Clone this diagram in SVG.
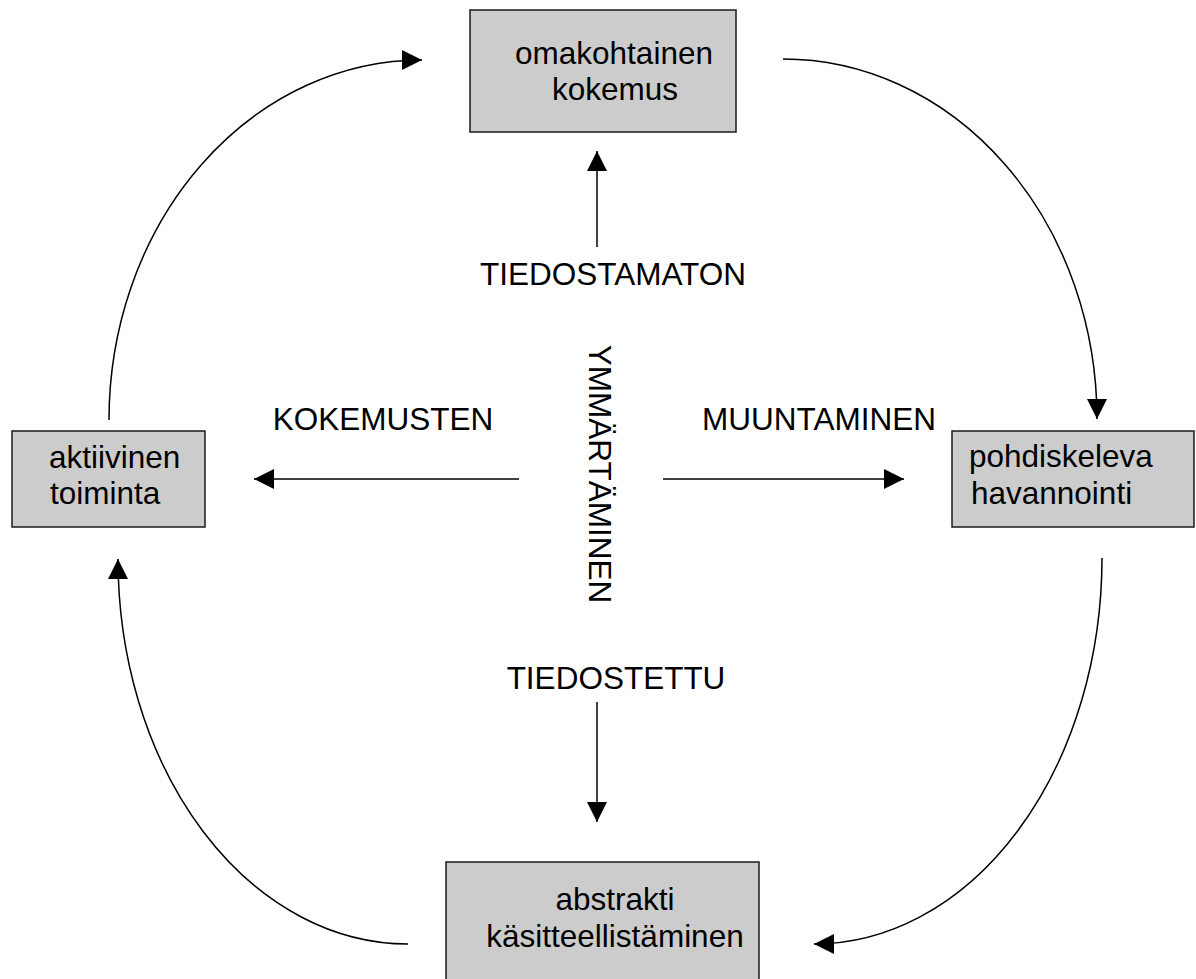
<svg xmlns="http://www.w3.org/2000/svg" width="1196" height="979" viewBox="0 0 1196 979">
  <style>
    .box { fill: #cccccc; stroke: #1a1a1a; stroke-width: 1.5; }
    .txt { font-family: "Liberation Sans", Arial, sans-serif; font-size: 31.5px; fill: #000; }
    .mid { text-anchor: middle; }
    .conn { fill: none; stroke: #000; stroke-width: 1.5; }
  </style>
  <defs>
    <marker id="head" viewBox="0 0 20 20" refX="20" refY="10" markerWidth="20" markerHeight="20" markerUnits="userSpaceOnUse" orient="auto">
      <path d="M0,0 L20,10 L0,20 Z" fill="#000"/>
    </marker>
  </defs>

  <rect width="1196" height="979" fill="#fff"/>

  <!-- connectors: the outer cycle and the four inner arrows -->
  <g id="connectors">
    <path class="conn" d="M109,420 A313,360 0 0 1 422,60" marker-end="url(#head)"/>
    <path class="conn" d="M783,59 A314,360 0 0 1 1097,419" marker-end="url(#head)"/>
    <path class="conn" d="M1102,558 A288,386 0 0 1 814,944" marker-end="url(#head)"/>
    <path class="conn" d="M408,944 A290,385 0 0 1 118,559" marker-end="url(#head)"/>
    <path class="conn" d="M597,247 L597,151" marker-end="url(#head)"/>
    <path class="conn" d="M597,702 L597,822" marker-end="url(#head)"/>
    <path class="conn" d="M519,479 L254,479" marker-end="url(#head)"/>
    <path class="conn" d="M663,479 L904,479" marker-end="url(#head)"/>
  </g>

  <g id="node-kokemus">
    <rect class="box" x="470" y="10" width="266" height="122"/>
    <text class="txt mid" x="614" y="64">omakohtainen</text>
    <text class="txt mid" x="615" y="100">kokemus</text>
  </g>

  <g id="node-toiminta">
    <rect class="box" x="12" y="431" width="193" height="96"/>
    <text class="txt" x="49" y="468">aktiivinen</text>
    <text class="txt" x="50" y="504">toiminta</text>
  </g>

  <g id="node-havannointi">
    <rect class="box" x="952" y="431" width="242" height="96"/>
    <text class="txt" x="969" y="467">pohdiskeleva</text>
    <text class="txt" x="971" y="504">havannointi</text>
  </g>

  <g id="node-kasitteellistaminen">
    <rect class="box" x="446" y="862" width="313" height="130"/>
    <text class="txt mid" x="615" y="910">abstrakti</text>
    <text class="txt mid" x="615" y="947">käsitteellistäminen</text>
  </g>

  <g id="labels">
    <text class="txt mid" x="613" y="285">TIEDOSTAMATON</text>
    <text class="txt mid" x="383" y="430">KOKEMUSTEN</text>
    <text class="txt mid" x="819" y="430">MUUNTAMINEN</text>
    <text class="txt mid" x="616" y="689">TIEDOSTETTU</text>
    <text class="txt mid" transform="translate(589,474) rotate(90)">YMMÄRTÄMINEN</text>
  </g>
</svg>
